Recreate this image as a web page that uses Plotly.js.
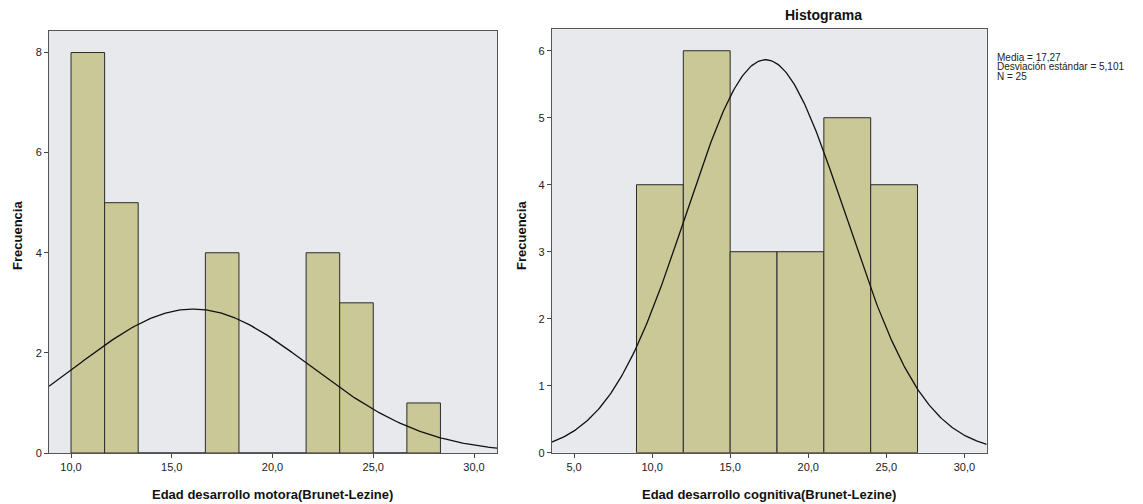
<!DOCTYPE html>
<html>
<head>
<meta charset="utf-8">
<script src="https://cdn.plot.ly/plotly-3.0.1.min.js"></script>
<style>html,body{margin:0;padding:0;background:#fff;}#chart{width:1143px;height:504px;}</style>
</head>
<body>
<div id="chart"></div>
<script>
// ---- Data ----
// Left histogram: Edad desarrollo motora (bins of width 5/3 starting at 10)
const motorBinStart = [10.0, 11.6667, 13.3333, 15.0, 16.6667, 18.3333, 20.0, 21.6667, 23.3333, 25.0, 26.6667];
const motorCounts   = [8, 5, 0, 0, 4, 0, 0, 4, 3, 0, 1];
const motorBinWidth = 5/3;
const motorMean = 16.07;
const motorSD   = 5.78;
const motorN    = 25;

// Right histogram: Edad desarrollo cognitiva (bins of width 3 starting at 9)
const cogBinStart = [9, 12, 15, 18, 21, 24];
const cogCounts   = [4, 6, 3, 3, 5, 4];
const cogBinWidth = 3;
const cogMean = 17.27;
const cogSD   = 5.101;
const cogN    = 25;

const xTickVals  = [5, 10, 15, 20, 25, 30];
const xTickText  = ['5,0', '10,0', '15,0', '20,0', '25,0', '30,0'];
const statsLines = ['Media = 17,27', 'Desviación estándar = 5,101', 'N = 25'];

// ---- Helpers ----
function normalCurve(mean, sd, n, bw, x0, x1) {
  const xs = [], ys = [];
  const steps = 300;
  for (let i = 0; i <= steps; i++) {
    const x = x0 + (x1 - x0) * i / steps;
    const z = (x - mean) / sd;
    xs.push(x);
    ys.push(n * bw / (sd * Math.sqrt(2 * Math.PI)) * Math.exp(-0.5 * z * z));
  }
  return {xs, ys};
}
const centers = (starts, w) => starts.map(s => s + w / 2);

const barColor = '#c9c896';
const barLine = '#2b2b2b';
const bg = '#e8e9ec';

const leftRange = [8.907, 31.14];
const rightRange = [3.57, 31.43];

const mc = normalCurve(motorMean, motorSD, motorN, motorBinWidth, leftRange[0], leftRange[1]);
const cc = normalCurve(cogMean, cogSD, cogN, cogBinWidth, rightRange[0], rightRange[1]);

const traces = [
  {type: 'bar', x: centers(motorBinStart, motorBinWidth), y: motorCounts, width: motorBinWidth,
   marker: {color: barColor, line: {color: barLine, width: 1}}, xaxis: 'x', yaxis: 'y', hoverinfo: 'skip'},
  {type: 'scatter', mode: 'lines', x: mc.xs, y: mc.ys, line: {color: '#111', width: 1.3},
   xaxis: 'x', yaxis: 'y', hoverinfo: 'skip'},
  {type: 'bar', x: centers(cogBinStart, cogBinWidth), y: cogCounts, width: cogBinWidth,
   marker: {color: barColor, line: {color: barLine, width: 1}}, xaxis: 'x2', yaxis: 'y2', hoverinfo: 'skip'},
  {type: 'scatter', mode: 'lines', x: cc.xs, y: cc.ys, line: {color: '#111', width: 1.3},
   xaxis: 'x2', yaxis: 'y2', hoverinfo: 'skip'}
];

const tickFont = {family: 'Liberation Sans, Arial, sans-serif', size: 11, color: '#222'};
const axisCommon = {
  showgrid: false, zeroline: false, showline: true, linecolor: '#555', linewidth: 1, mirror: true,
  ticks: 'outside', ticklen: 4, tickcolor: '#444', tickfont: tickFont, fixedrange: true
};

const W = 1143, H = 504;
const statFont = {family: 'Liberation Sans, Arial', size: 10, color: '#222'};
const layout = {
  width: W, height: H,
  margin: {l: 0, r: 0, t: 0, b: 0},
  paper_bgcolor: '#fff',
  plot_bgcolor: bg,
  showlegend: false,
  bargap: 0,
  xaxis: Object.assign({}, axisCommon, {domain: [49/W, 497/W], range: leftRange, anchor: 'y',
    tickvals: xTickVals, ticktext: xTickText}),
  yaxis: Object.assign({}, axisCommon, {domain: [(H-453)/H, (H-31)/H], range: [0, 8.43], anchor: 'x',
    tickvals: [0, 2, 4, 6, 8]}),
  xaxis2: Object.assign({}, axisCommon, {domain: [551.7/W, 986.7/W], range: rightRange, anchor: 'y2',
    tickvals: xTickVals, ticktext: xTickText}),
  yaxis2: Object.assign({}, axisCommon, {domain: [(H-452.7)/H, (H-29.3)/H], range: [0, 6.32], anchor: 'x2',
    tickvals: [0, 1, 2, 3, 4, 5, 6]}),
  annotations: [
    {text: '<b>Frecuencia</b>', xref: 'paper', yref: 'paper', x: 17/W, y: 1 - 236/H, textangle: -90,
     showarrow: false, xanchor: 'center', yanchor: 'middle', font: {family: 'Liberation Sans, Arial', size: 13, color: '#111'}},
    {text: '<b>Frecuencia</b>', xref: 'paper', yref: 'paper', x: 521/W, y: 1 - 236/H, textangle: -90,
     showarrow: false, xanchor: 'center', yanchor: 'middle', font: {family: 'Liberation Sans, Arial', size: 13, color: '#111'}},
    {text: '<b>Edad desarrollo motora(Brunet-Lezine)</b>', xref: 'paper', yref: 'paper', x: 272/W, y: 1 - 494/H,
     showarrow: false, xanchor: 'center', yanchor: 'middle', font: {family: 'Liberation Sans, Arial', size: 13, color: '#111'}},
    {text: '<b>Edad desarrollo cognitiva(Brunet-Lezine)</b>', xref: 'paper', yref: 'paper', x: 769/W, y: 1 - 494/H,
     showarrow: false, xanchor: 'center', yanchor: 'middle', font: {family: 'Liberation Sans, Arial', size: 13, color: '#111'}},
    {text: '<b>Histograma</b>', xref: 'paper', yref: 'paper', x: 823.5/W, y: 1 - 15/H,
     showarrow: false, xanchor: 'center', yanchor: 'middle', font: {family: 'Liberation Sans, Arial', size: 14, color: '#111'}},
    {text: statsLines[0], xref: 'paper', yref: 'paper', x: 995/W, y: 1 - 57.5/H,
     showarrow: false, xanchor: 'left', yanchor: 'middle', font: statFont},
    {text: statsLines[1], xref: 'paper', yref: 'paper', x: 995/W, y: 1 - 67/H,
     showarrow: false, xanchor: 'left', yanchor: 'middle', font: statFont},
    {text: statsLines[2], xref: 'paper', yref: 'paper', x: 995/W, y: 1 - 76.5/H,
     showarrow: false, xanchor: 'left', yanchor: 'middle', font: statFont}
  ]
};

Plotly.newPlot('chart', traces, layout, {displayModeBar: false, staticPlot: true});
</script>
</body>
</html>
